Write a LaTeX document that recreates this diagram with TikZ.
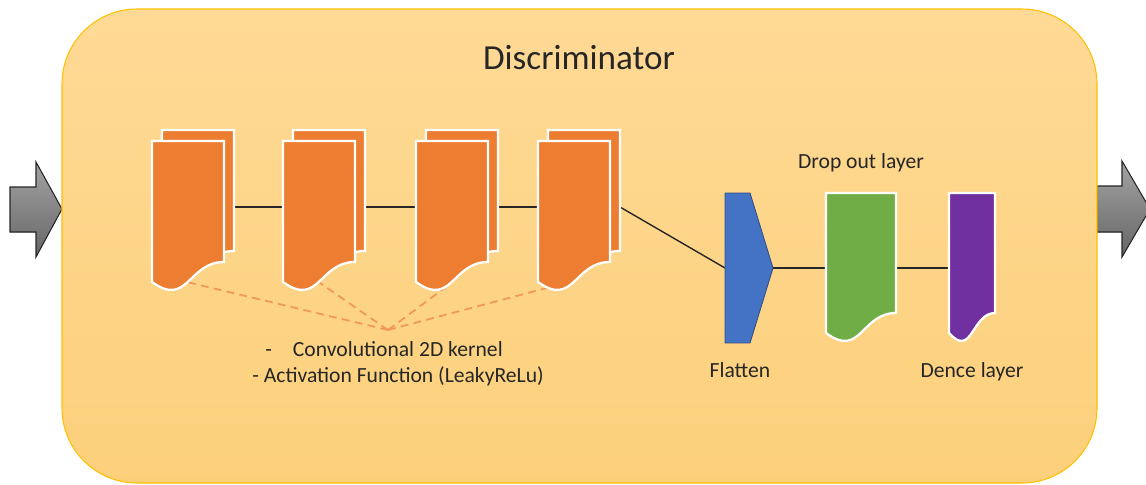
\documentclass[tikz,border=0pt]{standalone}
\usepackage{fontspec}
\setmainfont{Carlito}
\usetikzlibrary{positioning,calc,shapes}

\definecolor{boxedge}{HTML}{FFC000}
\definecolor{boxtop}{HTML}{FFDA96}
\definecolor{boxbot}{HTML}{FCD07B}
\definecolor{convorange}{HTML}{ED7D31}
\definecolor{dashorange}{HTML}{F0975A}
\definecolor{flatblue}{HTML}{4472C4}
\definecolor{dropgreen}{HTML}{70AD47}
\definecolor{densepurple}{HTML}{7030A0}
\definecolor{txt}{HTML}{262626}

\tikzset{
	layer/.style={draw=none, inner sep=0pt, outer sep=0pt},
	lbl/.style={text=txt, font=\fontsize{12.3}{14.7}\selectfont, inner sep=0pt},
	link/.style={black!85, line width=0.8pt},
	kernlink/.style={dashorange, dash pattern=on 4.5pt off 3pt, line width=1pt},
	docfill/.style={draw=white, line width=1.3pt},
	bigarrow/.style={top color=black!36, bottom color=black!60, draw=black!85, line width=0.6pt}
}

\begin{document}
\begin{tikzpicture}[x=0.02cm, y=-0.02cm]

	\path[use as bounding box] (0,0) rectangle (1146,484);
	\clip (0,0) rectangle (1146,484);

	\filldraw[bigarrow] (10,187) -- (36,187) -- (36,162) -- (62,209) -- (36,257) -- (36,232) -- (10,232) -- cycle;
	\filldraw[bigarrow] (1097,186) -- (1122,186) -- (1122,161) -- (1150,209) -- (1122,257) -- (1122,232) -- (1097,232) -- cycle;

	\draw[draw=boxedge, line width=0.6pt, top color=boxtop, bottom color=boxbot, rounded corners=1.5cm] (62,9) rectangle (1097,483);

	\node[text=txt, font=\fontsize{20}{24}\selectfont, inner sep=0pt] (title) at (579,58) {Discriminator};

	\node[layer, minimum width=1.44cm, minimum height=2.42cm] (c1b) at (198,190.5) {};
	\node[layer, minimum width=1.44cm, minimum height=2.42cm] (c1) at (188,201.5) {};
	\node[layer, minimum width=1.44cm, minimum height=2.42cm] (c2b) at (329,190.5) {};
	\node[layer, minimum width=1.44cm, minimum height=2.42cm] (c2) at (319,201.5) {};
	\node[layer, minimum width=1.44cm, minimum height=2.42cm] (c3b) at (462,190.5) {};
	\node[layer, minimum width=1.44cm, minimum height=2.42cm] (c3) at (452,201.5) {};
	\node[layer, minimum width=1.44cm, minimum height=2.42cm] (c4b) at (584,190.5) {};
	\node[layer, minimum width=1.44cm, minimum height=2.42cm] (c4) at (574,201.5) {};
	\node[layer, minimum width=0.96cm, minimum height=3cm] (fl) at (749,268) {};
	\node[layer, minimum width=1.4cm, minimum height=2.4cm] (dr) at (861,253) {};
	\node[layer, minimum width=0.92cm, minimum height=2.4cm] (de) at (972,253) {};

	\coordinate (row) at (0,207);
	\coordinate (kern) at (388,330);

	\draw[kernlink] (kern) -- ($(c1.south west)+(18,16)$);
	\draw[kernlink] (kern) -- ($(c2.south west)+(27,14)$);
	\draw[kernlink] (kern) -- ($(c3.south west)+(34,22)$);
	\draw[kernlink] (kern) -- ($(c4.south west)+(20,23)$);

	\draw[link] (c1b.east |- row) -- (c2.west |- row);
	\draw[link] (c2b.east |- row) -- (c3.west |- row);
	\draw[link] (c3b.east |- row) -- (c4.west |- row);
	\draw[link] (c4b.east |- row) -- (fl.west);
	\draw[link] (fl.east) -- (dr.west |- fl.east);
	\draw[link] (dr.east |- fl.east) -- (de.west |- fl.east);

	\filldraw[docfill, fill=convorange] (c1b.north west) -- (c1b.north east) -- (c1b.south east) .. controls (c1b.south) and ($(c1b.south)+(0,46)$) .. ($(c1b.south west)+(0,20)$) -- cycle;
	\filldraw[docfill, fill=convorange] (c1.north west) -- (c1.north east) -- (c1.south east) .. controls (c1.south) and ($(c1.south)+(0,46)$) .. ($(c1.south west)+(0,20)$) -- cycle;
	\filldraw[docfill, fill=convorange] (c2b.north west) -- (c2b.north east) -- (c2b.south east) .. controls (c2b.south) and ($(c2b.south)+(0,46)$) .. ($(c2b.south west)+(0,20)$) -- cycle;
	\filldraw[docfill, fill=convorange] (c2.north west) -- (c2.north east) -- (c2.south east) .. controls (c2.south) and ($(c2.south)+(0,46)$) .. ($(c2.south west)+(0,20)$) -- cycle;
	\filldraw[docfill, fill=convorange] (c3b.north west) -- (c3b.north east) -- (c3b.south east) .. controls (c3b.south) and ($(c3b.south)+(0,46)$) .. ($(c3b.south west)+(0,20)$) -- cycle;
	\filldraw[docfill, fill=convorange] (c3.north west) -- (c3.north east) -- (c3.south east) .. controls (c3.south) and ($(c3.south)+(0,46)$) .. ($(c3.south west)+(0,20)$) -- cycle;
	\filldraw[docfill, fill=convorange] (c4b.north west) -- (c4b.north east) -- (c4b.south east) .. controls (c4b.south) and ($(c4b.south)+(0,46)$) .. ($(c4b.south west)+(0,20)$) -- cycle;
	\filldraw[docfill, fill=convorange] (c4.north west) -- (c4.north east) -- (c4.south east) .. controls (c4.south) and ($(c4.south)+(0,46)$) .. ($(c4.south west)+(0,20)$) -- cycle;

	\filldraw[fill=flatblue, draw=flatblue!70!black, line width=0.5pt] (fl.north west) -- ($(fl.north west)+(25,0)$) -- (fl.east) -- ($(fl.south west)+(25,0)$) -- (fl.south west) -- cycle;
	\filldraw[docfill, fill=dropgreen] (dr.north west) -- (dr.north east) -- (dr.south east) .. controls (dr.south) and ($(dr.south)+(0,46)$) .. ($(dr.south west)+(0,20)$) -- cycle;
	\filldraw[docfill, fill=densepurple] (de.north west) -- (de.north east) -- (de.south east) .. controls (de.south) and ($(de.south)+(0,46)$) .. ($(de.south west)+(0,20)$) -- cycle;

	\node[lbl] (droplbl) at (861,163) {Drop out layer};
	\node[lbl] (flatlbl) at (740,370) {Flatten};
	\node[lbl] (denselbl) at (972,372) {Dence layer};
	\node[lbl, anchor=west, align=left] (convlbl) at (252,364) {\hspace{0.26cm}-\hspace{0.42cm}Convolutional 2D kernel\\- Activation Function (LeakyReLu)};

\end{tikzpicture}
\end{document}
